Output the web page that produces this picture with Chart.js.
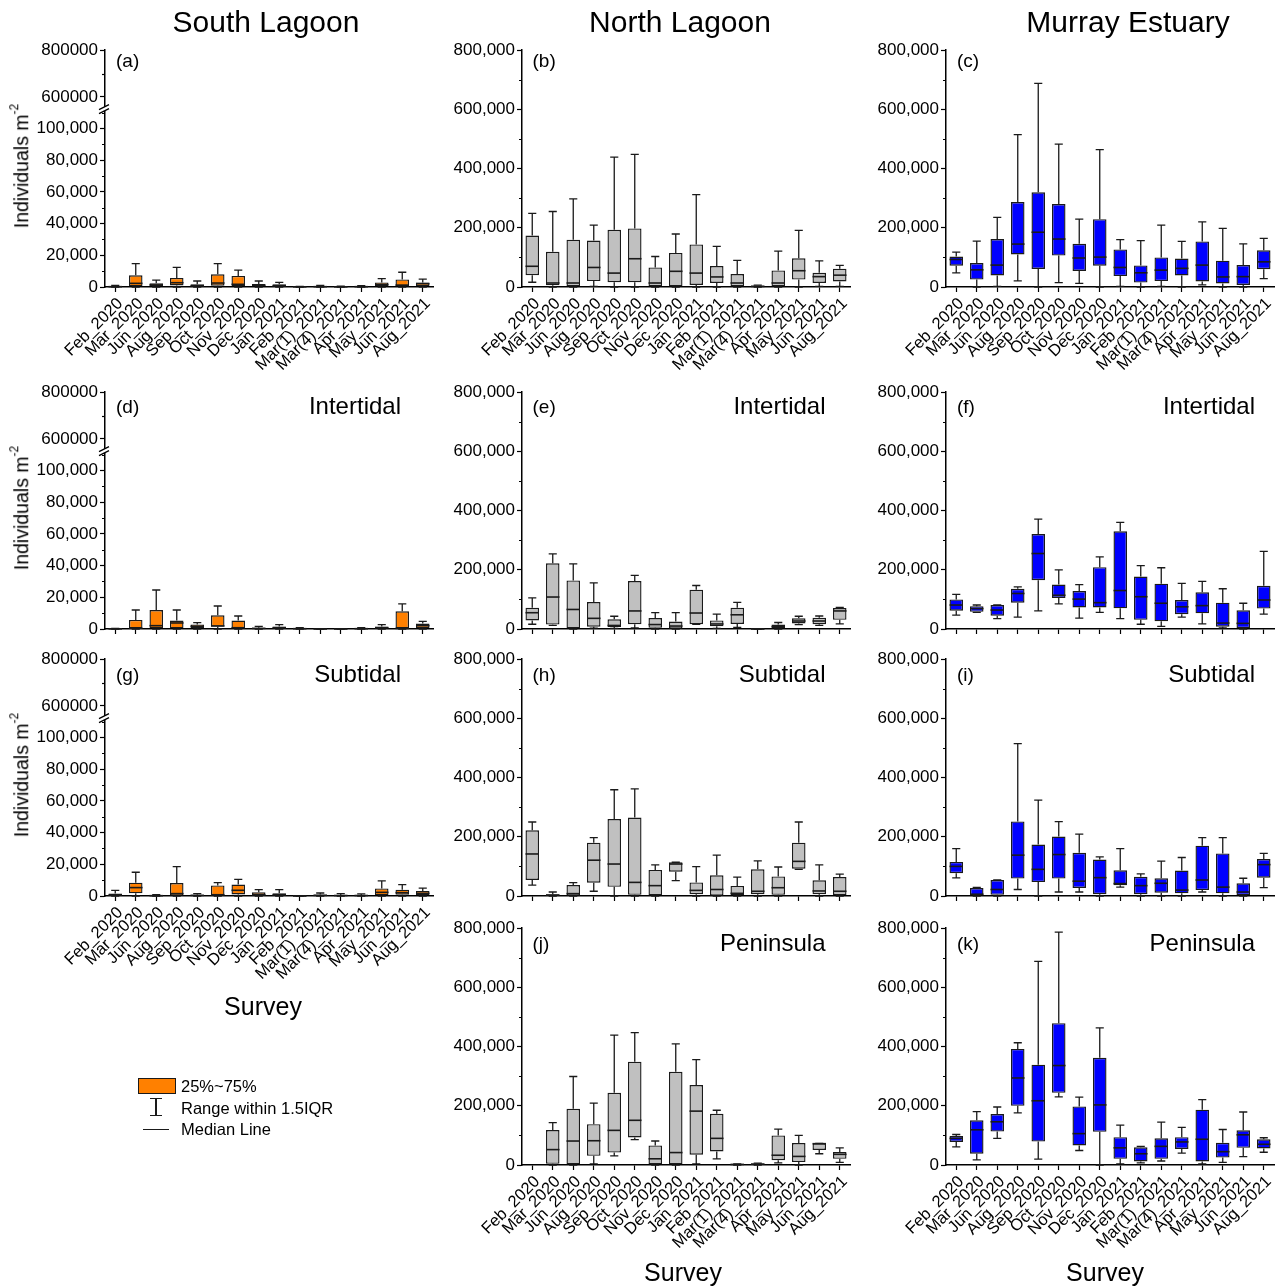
<!DOCTYPE html>
<html><head><meta charset="utf-8">
<script src="https://cdn.jsdelivr.net/npm/chart.js@4.4.1/dist/chart.umd.min.js"></script>
<style>
html,body{margin:0;padding:0;background:#fff;}
#fig{position:relative;width:1282px;height:1288px;overflow:hidden;font-family:'Liberation Sans',Arial,Helvetica,sans-serif;color:#000;}
#fig canvas{position:absolute;}
.lbl{position:absolute;white-space:nowrap;line-height:1;}
</style></head><body><div id="fig"></div>
<script>
// Survey occasions (x categories)
const surveys = ['Feb_2020','Mar_2020','Jun_2020','Aug_2020','Sep_2020','Oct_2020','Nov_2020','Dec_2020',
  'Jan_2021','Feb_2021','Mar(1)_2021','Mar(4)_2021','Apr_2021','May_2021','Jun_2021','Aug_2021'];

// Five-number summaries per survey: [min, q1, median, q3, max], individuals m-2
const southAll = [[0,0,200,500,1000],[0,400,2300,7400,14700],[0,400,1300,2300,4400],[0,1000,2700,5700,12400],
  [0,200,800,1700,3800],[0,800,2500,8000,14700],[0,400,1700,7000,10700],[0,400,1000,1900,3800],
  [0,200,800,1700,2900],[0,0,100,200,300],[0,0,200,400,1000],[0,0,100,300,600],
  [0,0,200,500,800],[0,400,1500,2900,5300],[0,0,1200,4800,9300],[0,600,2100,2900,5000]];
const northAll = [[16000,40000,70000,174000,249000],[0,5600,13500,119000,255000],[0,2000,13500,160000,298000],[2000,20000,66000,157000,209000],
  [0,16000,47000,193000,439000],[0,16000,95500,198000,448000],[0,2000,13500,66000,103000],[0,2000,53000,115000,179000],
  [0,6700,47000,144000,312000],[0,13500,34000,71000,137000],[0,2000,13500,44000,90000],[0,0,2000,5000,6000],
  [0,2000,13500,56000,121000],[0,25000,55000,97000,191000],[2000,13500,35000,48000,88000],[2000,19000,40000,62000,73000]];
const murrayAll = [[48000,72000,93000,103000,118000],[0,25000,58000,81000,155000],[2000,39000,74000,162000,235000],[21000,110000,145000,287000,515000],
  [0,61000,185000,320000,688000],[15000,106000,162000,280000,483000],[12000,54000,98000,146000,229000],[0,72000,101000,229000,464000],
  [2000,37000,66000,127000,160000],[0,15000,48000,73000,157000],[2000,20000,57000,100000,209000],[0,39000,63000,96000,154000],
  [7000,19000,74000,154000,220000],[0,12000,34000,89000,198000],[0,7000,35000,74000,146000],[28000,60000,85000,124000,164000]];

const southInter = [[0,0,100,200,300],[0,0,500,5700,12000],[0,400,2100,12000,24600],[0,400,3800,5300,12000],
  [0,600,1700,2900,4000],[0,1500,1900,8600,14500],[0,400,800,5300,8200],[0,0,400,800,1700],
  [0,200,800,1500,2700],[0,0,200,400,800],[0,0,0,100,200],[0,0,0,100,200],
  [0,0,200,400,800],[0,200,800,1500,2700],[0,0,400,11200,15800],[0,600,2100,3400,4800]];
const northInter = [[16000,29000,55000,72000,105000],[12000,15000,108000,222000,254000],[0,0,66000,164000,220000],[3000,8000,36000,91000,156000],
  [2000,7000,12000,33000,43000],[4000,16000,61000,162000,181000],[0,4000,15000,37000,55000],[0,1000,10000,25000,55000],
  [16000,16000,54000,133000,147000],[2000,9000,17000,29000,50000],[5000,17000,48000,72000,90000],[0,0,0,500,800],
  [0,2000,8000,15000,22000],[15000,19000,27000,36000,43000],[12000,16000,27000,38000,44000],[17000,31000,61000,71000,73000]];
const murrayInter = [[47000,62000,81000,100000,117000],[56000,58000,69000,77000,81000],[35000,45000,64000,81000,81000],[40000,89000,120000,136000,142000],
  [61000,165000,255000,321000,371000],[85000,105000,114000,150000,200000],[37000,73000,101000,128000,150000],[56000,73000,89000,209000,244000],
  [35000,70000,130000,330000,360000],[16000,31000,109000,177000,214000],[9000,26000,87000,153000,207000],[40000,50000,75000,98000,154000],
  [17000,53000,79000,124000,161000],[4000,8000,20000,89000,136000],[0,3000,19000,63000,87000],[50000,69000,98000,146000,262000]];

const southSub = [[0,200,600,1500,3600],[0,1700,5300,8400,15000],[0,0,200,400,800],[0,200,1500,8200,18500],
  [0,0,400,800,1500],[0,200,800,6700,8400],[0,1000,3600,7200,10500],[0,200,800,2300,4000],
  [0,200,800,1700,4000],[0,0,0,100,100],[0,0,400,1000,1900],[0,0,300,600,1500],
  [0,0,300,600,1300],[0,400,2300,4800,9500],[0,800,2100,4000,7200],[0,600,1700,3200,5000]];
const northSub = [[37000,54000,142000,222000,250000],[0,1000,3000,6000,13500],[0,1000,8000,37000,45000],[16000,45000,121000,180000,197000],
  [0,31000,108000,260000,359000],[0,4000,46000,265000,362000],[0,0,35000,88000,105000],[52000,82000,108000,114000,114000],
  [0,6000,19000,46000,99000],[0,1000,22000,70000,138000],[0,3000,9000,34000,64000],[0,6000,16000,90000,119000],
  [0,4000,28000,66000,98000],[90000,92000,117000,180000,250000],[0,6000,17000,53000,105000],[0,3000,16000,64000,74000]];
const murraySub = [[61000,77000,100000,115000,160000],[0,2000,6000,27000,29000],[0,4000,22000,54000,54000],[22000,59000,138000,252000,515000],
  [0,47000,90000,174000,324000],[13500,59000,140000,201000,251000],[13500,27000,50000,146000,209000],[0,6000,62000,123000,132000],
  [30000,36000,42000,87000,160000],[0,6000,35000,65000,75000],[0,11000,43000,60000,118000],[0,9000,20000,86000,130000],
  [13500,20000,54000,170000,197000],[0,9000,30000,144000,197000],[0,3000,13500,43000,60000],[28000,62000,106000,125000,144000]];

const northPen = [null,[0,4000,52000,118000,143000],[0,0,81000,190000,299000],[4000,31000,82000,138000,209000],
  [31000,42000,117000,244000,439000],[86000,93000,151000,349000,447000],[0,0,21000,66000,81000],[0,2000,42000,315000,409000],
  [4000,35000,182000,270000,356000],[21000,46000,90000,173000,185000],[0,1000,2000,3000,4000],[0,1000,3000,5000,6000],
  [7000,16000,33000,100000,121000],[0,10000,29000,74000,100000],[38000,51000,72000,73000,73000],[9000,21000,36000,44000,58000]];
const murrayPen = [[61000,78000,90000,98000,103000],[17000,38000,119000,151000,180000],[90000,113000,146000,172000,196000],[176000,200000,294000,392000,413000],
  [20000,79000,217000,339000,688000],[230000,244000,336000,479000,787000],[49000,66000,106000,198000,229000],[0,112000,203000,362000,463000],
  [4000,21000,58000,94000,135000],[7000,12000,38000,60000,63000],[13500,21000,63000,90000,145000],[40000,54000,78000,94000,127000],
  [4000,12000,87000,187000,221000],[9000,25000,45000,75000,120000],[28000,58000,102000,117000,179000],[43000,56000,70000,87000,92000]];

// y-axis tick values (labelled) and ranges
const fullTickValues = [0, 200000, 400000, 600000, 800000];
const lowTickValues = [0, 20000, 40000, 60000, 80000, 100000];
const highTickValues = [600000, 800000];
const fullTicks = { min: 0, max: 800000, values: fullTickValues, minor: 100000, major: 200000 };
const lowTicks = { min: 0, max: 110300, values: lowTickValues, minor: 10000, major: 20000 };
const highTicks = { min: 557500, max: 800000, values: highTickValues, minor: 100000, major: 200000 };

const ORANGE = '#FF8000', GREY = '#C0C0C0', BLUE = '#0000FF';
const INK = '#1a1a1a';

Chart.defaults.font.family = "'Liberation Sans', Arial, Helvetica, sans-serif";
Chart.defaults.color = '#000';

const withCommas = v => String(Math.round(v)).replace(/\B(?=(\d{3})+(?!\d))/g, ',');
const plain = v => String(Math.round(v));

// whiskers, caps and median lines over the floating IQR bars
const boxPlugin = {
  id: 'boxWhiskers',
  afterDatasetsDraw(chart) {
    const ds = chart.data.datasets[0];
    if (!ds || !ds.stats) return;
    const meta = chart.getDatasetMeta(0);
    const ys = chart.scales.y;
    const ctx = chart.ctx;
    ctx.save();
    ctx.strokeStyle = INK;
    meta.data.forEach((bar, i) => {
      const s = ds.stats[i];
      if (!s) return;
      const [mn, q1, md, q3, mx] = s.map(v => ys.getPixelForValue(v));
      const x = bar.x, w = bar.width, cap = w * 0.3;
      ctx.lineWidth = 1.3;
      ctx.beginPath();
      ctx.moveTo(x, q3); ctx.lineTo(x, mx);
      ctx.moveTo(x - cap, mx); ctx.lineTo(x + cap, mx);
      ctx.moveTo(x, q1); ctx.lineTo(x, mn);
      ctx.moveTo(x - cap, mn); ctx.lineTo(x + cap, mn);
      ctx.stroke();
      ctx.lineWidth = 1.6;
      ctx.beginPath();
      ctx.moveTo(x - w / 2, md); ctx.lineTo(x + w / 2, md);
      ctx.stroke();
    });
    ctx.restore();
  }
};

// short unlabeled ticks between the labelled ones
const minorPlugin = {
  id: 'minorTicks',
  afterDraw(chart, args, opts) {
    if (!opts.step) return;
    const s = chart.scales.y, ctx = chart.ctx, ax = chart.chartArea.left;
    ctx.save();
    ctx.strokeStyle = '#000'; ctx.lineWidth = 1.2;
    ctx.beginPath();
    for (let v = Math.ceil(s.min / opts.step) * opts.step; v <= s.max + 1; v += opts.step) {
      if (Math.abs(v % opts.major) < 1) continue;
      const y = Math.round(s.getPixelForValue(v)) + 0.5;
      ctx.moveTo(ax - 3, y); ctx.lineTo(ax, y);
    }
    ctx.stroke();
    ctx.restore();
  }
};

// double slash marking the gap in a broken y axis
const breakPlugin = {
  id: 'axisBreak',
  afterDraw(chart, args, opts) {
    if (!opts.on) return;
    const ctx = chart.ctx, ax = chart.chartArea.left, top = chart.chartArea.top;
    ctx.save();
    ctx.strokeStyle = '#000'; ctx.lineWidth = 1.3;
    ctx.beginPath();
    [top - 5, top - 1].forEach(y => { ctx.moveTo(ax - 6, y + 2.5); ctx.lineTo(ax + 4, y - 2.5); });
    ctx.stroke();
    ctx.restore();
  }
};

const fig = document.getElementById('fig');

function makeChart(p) {
  const padT = 12, padR = 12, padB = 12, yw = 100;
  const cw = yw + p.w + padR, ch = padT + p.h + p.xh + padB;
  const cv = document.createElement('canvas');
  cv.width = cw; cv.height = ch;
  cv.style.left = (p.x - yw) + 'px'; cv.style.top = (p.y - padT) + 'px';
  cv.style.width = cw + 'px'; cv.style.height = ch + 'px';
  fig.appendChild(cv);
  const datasets = p.boxes ? [{
    data: p.boxes.map(b => b ? [b[1], b[3]] : null),
    stats: p.boxes,
    backgroundColor: p.color, borderColor: INK, borderWidth: 1.4, borderSkipped: false,
    barPercentage: 0.66, categoryPercentage: 1
  }] : [];
  return new Chart(cv, {
    type: 'bar',
    data: { labels: surveys, datasets },
    options: {
      responsive: false, animation: false, devicePixelRatio: 1,
      layout: { padding: { top: padT, right: padR, left: 0, bottom: padB } },
      plugins: {
        legend: { display: false }, tooltip: { enabled: false },
        minorTicks: { step: p.ticks.minor, major: p.ticks.major },
        axisBreak: { on: !!p.broken }
      },
      scales: {
        x: {
          display: p.xMode !== 'none', offset: true,
          grid: { drawOnChartArea: false, drawTicks: true, tickLength: 5, offset: false, color: '#000', tickWidth: 1.2 },
          border: { display: true, color: '#000', width: 1.5 },
          ticks: { display: p.xMode === 'labels', autoSkip: false, maxRotation: 45, minRotation: 45, padding: 2,
                   labelOffset: 5, font: { size: 16.5 }, color: '#000' },
          afterFit: s => { s.height = p.xh; }
        },
        y: {
          min: p.ticks.min, max: p.ticks.max,
          grid: { drawOnChartArea: false, drawTicks: true, tickLength: 5, color: '#000', tickWidth: 1.2 },
          border: { display: true, color: '#000', width: 1.5 },
          ticks: { padding: 2, font: { size: 17 }, color: '#000', callback: p.fmt },
          afterBuildTicks: s => { s.ticks = p.ticks.values.map(v => ({ value: v })); },
          afterFit: s => { s.width = yw; }
        }
      }
    },
    plugins: [boxPlugin, minorPlugin, breakPlugin]
  });
}

function text(str, x, y, size, align, extra) {
  const d = document.createElement('div');
  d.className = 'lbl';
  d.innerHTML = str;
  d.style.left = x + 'px'; d.style.top = y + 'px'; d.style.fontSize = size + 'px';
  const tx = align === 'center' ? '-50%' : align === 'right' ? '-100%' : '0';
  d.style.transform = `translate(${tx},-50%)` + (extra || '');
  fig.appendChild(d);
  return d;
}

const COLS = [105, 521.5, 946];
const ROWS = [50, 391.5, 659, 928];
const TAG_DY = [10, 14.5, 15, 15];
const PW = 328, PH = 237;
const SUB_RIGHT = [296, 304, 309];

const panels = [
  { tag: '(a)', col: 0, row: 0, boxes: southAll, color: ORANGE, xMode: 'labels' },
  { tag: '(b)', col: 1, row: 0, boxes: northAll, color: GREY, xMode: 'labels' },
  { tag: '(c)', col: 2, row: 0, boxes: murrayAll, color: BLUE, xMode: 'labels' },
  { tag: '(d)', col: 0, row: 1, boxes: southInter, color: ORANGE, xMode: 'ticks', sub: 'Intertidal' },
  { tag: '(e)', col: 1, row: 1, boxes: northInter, color: GREY, xMode: 'ticks', sub: 'Intertidal' },
  { tag: '(f)', col: 2, row: 1, boxes: murrayInter, color: BLUE, xMode: 'ticks', sub: 'Intertidal' },
  { tag: '(g)', col: 0, row: 2, boxes: southSub, color: ORANGE, xMode: 'labels', sub: 'Subtidal' },
  { tag: '(h)', col: 1, row: 2, boxes: northSub, color: GREY, xMode: 'ticks', sub: 'Subtidal' },
  { tag: '(i)', col: 2, row: 2, boxes: murraySub, color: BLUE, xMode: 'ticks', sub: 'Subtidal' },
  { tag: '(j)', col: 1, row: 3, boxes: northPen, color: GREY, xMode: 'labels', sub: 'Peninsula' },
  { tag: '(k)', col: 2, row: 3, boxes: murrayPen, color: BLUE, xMode: 'labels', sub: 'Peninsula' }
];

panels.forEach(pn => {
  const x = COLS[pn.col], y = ROWS[pn.row];
  const xh = pn.xMode === 'labels' ? 110 : 8;
  if (pn.col === 0) {
    // South Lagoon: broken axis, upper stub 557,500-800,000 and lower 0-110,300
    makeChart({ x, y, w: PW, h: 57, xh: 0, xMode: 'none', ticks: highTicks, fmt: plain });
    makeChart({ x, y: y + 62, w: PW, h: PH - 62, xh, xMode: pn.xMode, ticks: lowTicks, fmt: withCommas,
                boxes: pn.boxes, color: pn.color, broken: true });
    text('Individuals m<sup style="font-size:12px;vertical-align:10px">-2</sup>', 20, y + 116, 19.5, 'center', ' rotate(-90deg)');
  } else {
    makeChart({ x, y, w: PW, h: PH, xh, xMode: pn.xMode, ticks: fullTicks, fmt: withCommas, boxes: pn.boxes, color: pn.color });
  }
  const ty = y + TAG_DY[pn.row];
  text(pn.tag, x + 11, ty, 19, 'left');
  if (pn.sub) text(pn.sub, x + SUB_RIGHT[pn.col], ty, 24, 'right');
});

// column headings and x-axis titles
text('South Lagoon', 266, 22, 30, 'center');
text('North Lagoon', 680, 22, 30, 'center');
text('Murray Estuary', 1128, 22, 30, 'center');
text('Survey', 263, 1006, 25, 'center');
text('Survey', 683, 1272, 25, 'center');
text('Survey', 1105, 1272, 25, 'center');

// key for the box elements
function rect(l, t, w, h, css) {
  const d = document.createElement('div');
  d.style.cssText = `position:absolute;left:${l}px;top:${t}px;width:${w}px;height:${h}px;box-sizing:border-box;${css}`;
  fig.appendChild(d);
}
rect(138, 1078, 38, 16, `background:${ORANGE};border:1.3px solid ${INK};`);
text('25%~75%', 181, 1086, 16.5, 'left');
rect(150, 1098, 12, 1.3, `background:${INK};`);
rect(155.4, 1098, 1.3, 18, `background:${INK};`);
rect(150, 1115, 12, 1.3, `background:${INK};`);
text('Range within 1.5IQR', 181, 1108, 16.5, 'left');
rect(143, 1128.5, 26, 1.3, `background:${INK};`);
text('Median Line', 181, 1129, 16.5, 'left');
</script></body></html>
